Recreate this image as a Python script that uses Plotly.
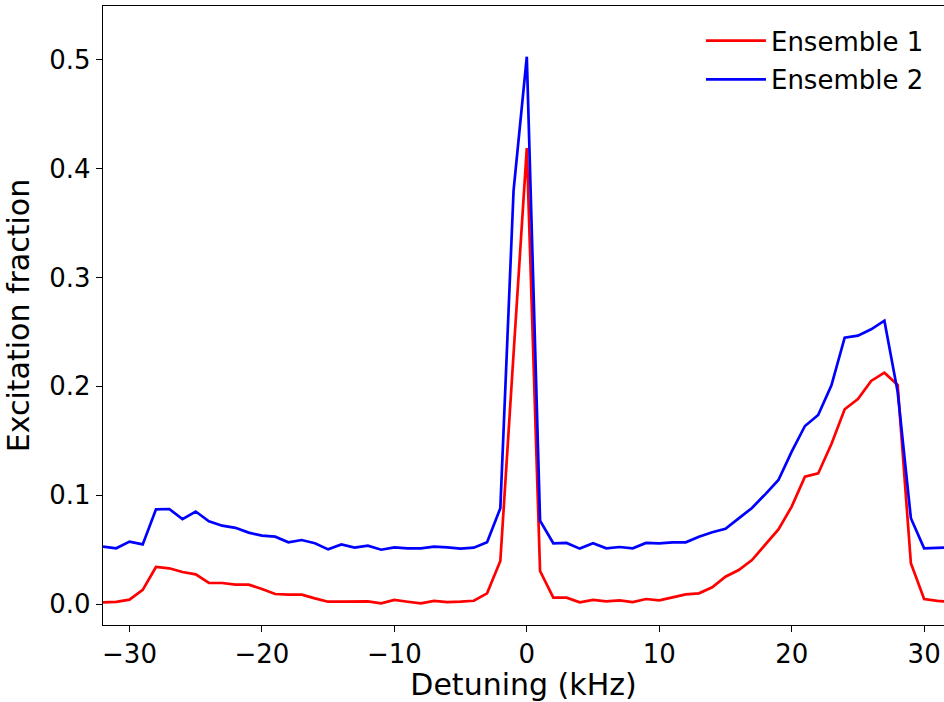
import plotly.graph_objects as go

detuning = list(range(-32, 33))

ensemble1 = [
    0.0015, 0.002, 0.004, 0.013, 0.034, 0.0328, 0.0294, 0.0273, 0.0193, 0.0193,
    0.0178, 0.0178, 0.0138, 0.0092, 0.0086, 0.0086, 0.0052, 0.0021, 0.0021, 0.0024,
    0.0024, 0.0006, 0.0037, 0.0021, 0.0006, 0.0028, 0.0018, 0.0021, 0.003, 0.0098,
    0.0395, 0.23, 0.419, 0.0303, 0.0058, 0.0058, 0.0015, 0.0037, 0.0024, 0.0034,
    0.0018, 0.0046, 0.0034, 0.0061, 0.0089, 0.0098, 0.0153, 0.0251, 0.0312, 0.0404,
    0.054, 0.0686, 0.0895, 0.1170, 0.120, 0.147, 0.179, 0.1884, 0.205, 0.2126,
    0.2013, 0.0374, 0.0046, 0.0028, 0.002,
]

ensemble2 = [
    0.0527, 0.0512, 0.0573, 0.0548, 0.087, 0.0873, 0.078, 0.085, 0.076, 0.072,
    0.070, 0.0656, 0.0628, 0.0619, 0.0567, 0.0588, 0.0558, 0.0502, 0.0548, 0.0518,
    0.0536, 0.0499, 0.0521, 0.0512, 0.0512, 0.0527, 0.0521, 0.0509, 0.0518, 0.0567,
    0.088, 0.380, 0.503, 0.0766, 0.0558, 0.0561, 0.0509, 0.0558, 0.0512, 0.0524,
    0.0512, 0.0561, 0.0558, 0.0567, 0.0567, 0.0619, 0.0659, 0.0692, 0.0787, 0.0882,
    0.1008, 0.114, 0.140, 0.1636, 0.1737, 0.201, 0.2448, 0.2466, 0.2525, 0.2604,
    0.195, 0.0788, 0.0512, 0.0518, 0.052,
]

x_ticks = [-30, -20, -10, 0, 10, 20, 30]
y_ticks = [0.0, 0.1, 0.2, 0.3, 0.4, 0.5]

FONT = "DejaVu Sans"

fig = go.Figure()
fig.add_trace(go.Scatter(x=detuning, y=ensemble1, mode="lines", name="Ensemble 1",
                         legendgroup="e1",
                         line=dict(color="#ff0000", width=2.7)))
fig.add_trace(go.Scatter(x=detuning, y=ensemble2, mode="lines", name="Ensemble 2",
                         legendgroup="e2",
                         line=dict(color="#0000ff", width=2.7)))

fig.update_layout(
    width=944, height=702,
    margin=dict(l=103, r=0, t=6, b=77),
    paper_bgcolor="white", plot_bgcolor="white",
    font=dict(family=FONT, size=26, color="black"),
    showlegend=True,
    legend=dict(x=0.711, y=0.982, xanchor="left", yanchor="top",
                bgcolor="rgba(0,0,0,0)", borderwidth=0,
                font=dict(family=FONT, size=26), traceorder="grouped",
                tracegroupgap=2, itemwidth=60),
)
fig.update_xaxes(
    range=[-32, 31.5], tickvals=x_ticks,
    ticktext=[("\u2212" + str(-v)) if v < 0 else str(v) for v in x_ticks],
    showgrid=False, zeroline=False,
    showline=True, linecolor="black", linewidth=1.4, mirror=True,
    ticks="outside", ticklen=6, tickwidth=1.3, tickcolor="black",
    tickfont=dict(family=FONT, size=26),
    title=dict(text="Detuning (kHz)", font=dict(family=FONT, size=30), standoff=8),
)
fig.update_yaxes(
    range=[-0.0193, 0.5496], tickvals=y_ticks,
    ticktext=[f"{v:.1f}" for v in y_ticks],
    showgrid=False, zeroline=False,
    showline=True, linecolor="black", linewidth=1.4, mirror=False,
    ticks="outside", ticklen=6, tickwidth=1.3, tickcolor="black",
    tickfont=dict(family=FONT, size=26),
    title=dict(text="Excitation fraction", font=dict(family=FONT, size=30), standoff=10),
)

fig.write_html("out.html")
